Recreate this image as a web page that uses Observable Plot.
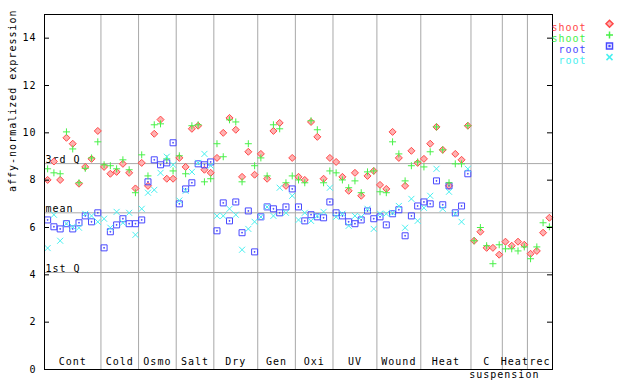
<!DOCTYPE html>
<html><head><meta charset="utf-8">
<script src="https://cdn.jsdelivr.net/npm/d3@7"></script>
<script src="https://cdn.jsdelivr.net/npm/@observablehq/plot@0.6"></script>
<style>html,body{margin:0;padding:0;background:#fff}svg{display:block}</style>
</head><body><div id="chart"></div>
<script>
// ---- data ----
const groupNames = ["Cont","Cold","Osmo","Salt","Dry","Gen","Oxi","UV","Wound","Heat","C","Heat","rec"];
const groupSizes = [9,6,6,6,7,6,6,7,7,8,5,4,4];
const subLabelText = "suspension";
const subLabelGroup = 10;
const seriesNames = ["shoot","shoot","root","root"];
const seriesColors = ["#ff4848","#48f048","#4848ff","#48f0f0"];
const refNames = ["3rd Q","mean","1st Q"];
const refValues = [8.70, 6.62, 4.10];
const yTicks = [0,2,4,6,8,10,12,14];

const shootRed = [8.01,8.79,8.01,9.79,9.54,7.85,8.56,8.90,10.08,
  8.56,8.27,8.35,8.69,8.31,7.65,
  8.73,7.76,9.96,10.56,8.06,8.06,
  8.94,8.56,10.17,10.30,8.44,8.31,
  8.94,10.00,10.63,10.13,8.14,9.20,8.23,
  9.11,8.06,10.08,10.42,7.76,8.94,
  8.14,8.01,10.46,9.83,8.06,8.94,
  8.77,8.14,7.55,8.31,7.34,8.18,8.39,
  7.80,7.63,10.04,8.94,7.76,9.24,8.73,
  8.90,9.54,10.25,9.28,7.76,9.11,8.86,10.30,
  5.44,5.82,5.14,5.14,4.85,
  5.40,5.23,5.40,5.27,
  4.89,5.01,5.78,6.41];
const shootGreen = [8.48,8.31,8.27,10.04,9.32,7.89,8.50,8.94,9.62,
  8.65,8.61,8.48,8.86,8.44,7.47,
  9.07,8.18,10.34,10.38,8.90,8.39,
  9.03,8.27,10.30,10.34,7.93,8.06,
  9.54,8.99,10.55,10.46,7.93,9.54,8.61,
  8.94,8.18,10.34,10.17,7.89,8.18,
  8.01,7.89,10.51,10.13,7.89,8.39,
  8.31,8.01,7.68,7.97,7.47,8.35,8.39,
  7.51,7.47,9.62,9.11,7.97,8.61,8.77,
  8.56,9.20,10.25,9.28,7.89,8.69,8.69,10.30,
  5.44,6.00,5.23,4.47,5.27,
  5.10,5.10,5.01,5.18,
  4.68,5.18,6.20,6.03];
const rootBlue = [6.32,6.03,5.94,6.16,5.94,6.20,6.49,6.24,6.62,
  5.14,5.82,6.11,6.37,6.16,6.16,
  6.32,7.93,8.86,8.65,8.73,9.58,
  7.00,7.63,7.89,8.69,8.65,8.77,
  5.86,7.04,6.28,7.08,5.78,6.70,4.97,
  6.45,6.87,6.79,6.62,6.87,7.63,
  6.87,6.28,6.54,6.45,6.41,7.08,
  6.62,6.49,6.24,6.16,6.32,6.70,6.37,
  6.45,6.11,6.58,6.75,5.65,6.49,6.91,
  7.08,7.00,7.97,6.96,7.76,6.62,6.91,8.27];
const rootCyan = [5.13,6.54,5.44,6.16,6.03,5.99,6.58,6.49,6.24,
  6.37,5.99,6.66,6.20,6.62,5.69,
  6.79,7.47,7.59,8.31,8.99,8.65,
  7.14,7.55,8.35,8.73,9.11,8.61,
  6.49,6.49,6.79,6.54,5.06,5.94,6.24,
  6.45,6.87,6.49,7.68,6.62,7.34,
  6.32,6.62,6.28,6.49,6.66,7.68,
  6.45,6.58,6.07,6.49,6.45,6.79,5.94,
  6.58,6.58,6.62,6.91,5.99,7.21,6.28,
  6.83,7.34,8.48,6.79,7.51,6.58,6.24,8.48];

// ---- derived tables ----
const ends = Array.from(d3.cumsum(groupSizes));
const total = ends[ends.length - 1];
const groups = groupNames.map((name, i) => ({name, start: ends[i] - groupSizes[i], end: ends[i]}));
groups.forEach(g => g.mid = (g.start + g.end) / 2);
const boundaries = ends.slice(0, -1);
const pts = arr => arr.map((v, i) => ({x: i + 0.5, v}));
const refs = refNames.map((name, i) => ({name, value: refValues[i]}));

// ---- marker shapes ----
const symDiamond = {draw(c){c.moveTo(0,-3.5);c.lineTo(3.5,0);c.lineTo(0,3.5);c.lineTo(-3.5,0);c.closePath();}};
const symPlus = {draw(c){c.moveTo(-3.5,0);c.lineTo(3.5,0);c.moveTo(0,-3.5);c.lineTo(0,3.5);}};
const symSquare = {draw(c){c.rect(-3,-3,6,6);c.rect(-0.4,-0.4,0.8,0.8);}};
const symTimes = {draw(c){c.moveTo(-3,-3);c.lineTo(3,3);c.moveTo(-3,3);c.lineTo(3,-3);}};
const symbols = [symDiamond, symPlus, symSquare, symTimes];
const fills = ["#ffb0b0","none","none","none"];
const seriesData = [shootRed, shootGreen, rootBlue, rootCyan];
const drawOrder = [0, 2, 1, 3];

const chart = Plot.plot({
  width: 640, height: 384,
  marginLeft: 44, marginRight: 88, marginTop: 14, marginBottom: 15,
  style: "font-family:'DejaVu Sans Mono',monospace;font-size:10px;letter-spacing:1px;background:#fff;color:#000;",
  x: {domain: [0, total], axis: null},
  y: {domain: [0, 15], axis: null},
  marks: [
    Plot.ruleX(boundaries, {stroke: "#a8a8a8", strokeWidth: 1}),
    Plot.ruleY(refValues, {stroke: "#a8a8a8", strokeWidth: 1}),
    Plot.text(refs, {y: "value", text: "name", frameAnchor: "left", textAnchor: "start", dx: 1, dy: -4, fill: "#000"}),
    ...drawOrder.map(k => Plot.dot(pts(seriesData[k]), {
      x: "x", y: "v", symbol: symbols[k], stroke: seriesColors[k], fill: fills[k], strokeWidth: 1, r: 3
    })),
    Plot.frame({stroke: "#000", strokeWidth: 1}),
    Plot.tickY(yTicks, {y: d => d, stroke: "#000", insetRight: 503}),
    Plot.tickY(yTicks, {y: d => d, stroke: "#000", insetLeft: 503}),
    Plot.text(yTicks, {y: d => d, text: d => String(d), frameAnchor: "left", textAnchor: "end", dx: -8, fill: "#000"}),
    Plot.text(groups, {x: "mid", text: "name", frameAnchor: "bottom", dy: -5, fill: "#000"}),
    Plot.text([subLabelText], {x: groups[subLabelGroup].end, text: d => d, frameAnchor: "bottom", dy: 8, dx: 2, fill: "#000"}),
    Plot.text(["affy-normalized expression"], {text: d => d, frameAnchor: "left", rotate: -90, dx: -32, fill: "#000"}),
    ...seriesNames.map((name, i) => Plot.text([name], {text: d => d, frameAnchor: "top-right", textAnchor: "end", dx: 34, dy: 9.5 + 11.1 * i, fill: seriesColors[i]})),
    ...seriesNames.map((name, i) => Plot.dot([name], {frameAnchor: "top-right", symbol: symbols[i], stroke: seriesColors[i], fill: fills[i], dx: 57, dy: 9.3 + 11.1 * i, r: 3}))
  ]
});
document.getElementById("chart").appendChild(chart);
</script>
</body></html>
